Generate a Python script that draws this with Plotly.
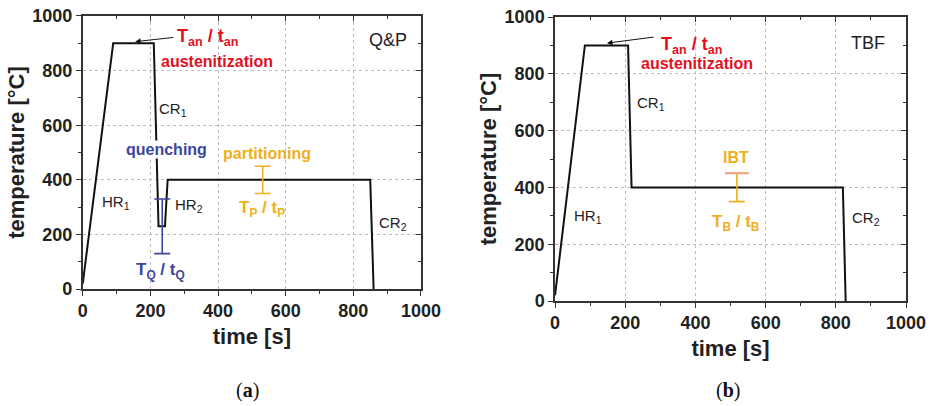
import plotly.graph_objects as go

# Heat-treatment schedules (time in s, temperature in °C)
qp_time = [0, 90, 210, 224, 243, 251, 850, 860]
qp_temp = [20, 900, 900, 230, 230, 400, 400, 0]

tbf_time = [0, 85, 208, 218, 820, 828]
tbf_temp = [20, 900, 900, 400, 400, 0]

# Process windows shown as range bars: centre and half-span
quench_t, quench_T, quench_span = [235], [230], [100]
part_t, part_T, part_span = [532], [400], [50]
ibt_t, ibt_T, ibt_span = [518], [400], [50]

tick_vals = [0, 200, 400, 600, 800, 1000]
tick_text = [f"<b>{v}</b>" for v in tick_vals]

RED = "#E2101E"
BLUE = "#3C469A"
GOLD = "#EDB020"
SALMON = "#F2A585"
DARK = "#222222"
FONT = "Liberation Sans"

fig = go.Figure()

fig.add_trace(go.Scatter(x=qp_time, y=qp_temp, mode="lines",
                         line=dict(color="#111111", width=2),
                         xaxis="x", yaxis="y", showlegend=False))
fig.add_trace(go.Scatter(x=tbf_time, y=tbf_temp, mode="lines",
                         line=dict(color="#111111", width=2),
                         xaxis="x2", yaxis="y2", showlegend=False))


def range_bar(t, T, span, color, xa, ya):
    return go.Scatter(x=t, y=T, mode="markers",
                      marker=dict(size=1, opacity=0),
                      error_y=dict(type="data", array=span, symmetric=True,
                                   color=color, thickness=1.6, width=8),
                      xaxis=xa, yaxis=ya, showlegend=False)


fig.add_trace(range_bar(quench_t, quench_T, quench_span, BLUE, "x", "y"))
fig.add_trace(range_bar(part_t, part_T, part_span, GOLD, "x", "y"))
fig.add_trace(range_bar(ibt_t, ibt_T, ibt_span, GOLD, "x2", "y2"))
# upper cap of the IBT window
fig.add_trace(go.Scatter(x=ibt_t, y=[ibt_T[0] + ibt_span[0]], mode="markers",
                         marker=dict(symbol="line-ew-open", size=17, color=SALMON,
                                     line=dict(color=SALMON, width=2.2)),
                         xaxis="x2", yaxis="y2", showlegend=False))

# placeholder traces so the mirrored frame axes are drawn
fig.add_trace(go.Scatter(x=[None], y=[None], xaxis="x3", yaxis="y3", showlegend=False))
fig.add_trace(go.Scatter(x=[None], y=[None], xaxis="x4", yaxis="y4", showlegend=False))

tickfont = dict(family=FONT, size=18, color=DARK)
titlefont = dict(family=FONT, size=22, color=DARK, weight="bold")


def main_axis(domain, anchor, title, standoff):
    return dict(domain=domain, anchor=anchor, range=[0, 1000],
                tickvals=tick_vals, ticktext=tick_text,
                ticks="outside", ticklen=5, tickwidth=1.3,
                tickcolor="#333", showline=True, linecolor="#333", linewidth=1.6,
                mirror=True, showgrid=True, gridcolor="#BDBDBD", gridwidth=1,
                griddash="dot", zeroline=False, tickfont=tickfont,
                minor=dict(dtick=100, ticks="outside", ticklen=3, tickwidth=1.2,
                           tickcolor="#333", showgrid=False),
                title=dict(text=title, font=titlefont, standoff=standoff),
                automargin=False, fixedrange=True)


def frame_axis(overlay, anchor, side):
    return dict(overlaying=overlay, anchor=anchor, side=side, range=[0, 1000],
                tickvals=tick_vals, ticks="inside", ticklen=5, tickwidth=1.3,
                tickcolor="#333", showticklabels=False, showgrid=False,
                showline=False, zeroline=False,
                minor=dict(dtick=100, ticks="inside", ticklen=3, tickwidth=1.2,
                           tickcolor="#333", showgrid=False),
                automargin=False, fixedrange=True)


ann = []


def label(x, y, text, xref, yref, size=15, color=DARK, bold=False, bg=None,
          serif=False, yanchor="middle"):
    f = dict(family="Liberation Serif" if serif else FONT, size=size, color=color)
    if bold:
        f["weight"] = "bold"
    a = dict(x=x, y=y, xref=xref, yref=yref, text=text, showarrow=False,
             font=f, xanchor="center", yanchor=yanchor)
    if bg:
        a["bgcolor"] = bg
        a["borderpad"] = 0
    ann.append(a)


def arrow(x, y, ax, ay, xref, yref):
    ann.append(dict(x=x, y=y, ax=ax, ay=ay, xref=xref, yref=yref,
                    axref=xref, ayref=yref, text="", showarrow=True,
                    arrowhead=2, arrowsize=1.1, arrowwidth=1,
                    arrowcolor="#111111"))


# Q&P panel
arrow(155, 906, 272, 922, "x", "y")
label(368, 922, "T<sub>an</sub> / t<sub>an</sub>", "x", "y", 18, RED, True)
label(397, 835, "austenitization", "x", "y", 16, RED, True)
label(903, 911, "Q&amp;P", "x", "y", 18)
label(266, 659, "CR<sub>1</sub>", "x", "y", 15)
label(247, 512, "quenching", "x", "y", 16, BLUE, True, bg="white")
label(545, 498, "partitioning", "x", "y", 16, GOLD, True)
label(98, 318, "HR<sub>1</sub>", "x", "y", 15)
label(314, 307, "HR<sub>2</sub>", "x", "y", 15)
label(531, 293, "T<sub>P</sub> / t<sub>P</sub>", "x", "y", 17, GOLD, True)
label(917, 241, "CR<sub>2</sub>", "x", "y", 15)
label(229, 66, "T<sub>Q</sub> / t<sub>Q</sub>", "x", "y", 17, BLUE, True)

# TBF panel
arrow(148, 908, 285, 930, "x2", "y2")
label(390, 901, "T<sub>an</sub> / t<sub>an</sub>", "x2", "y2", 18, RED, True)
label(405, 838, "austenitization", "x2", "y2", 16, RED, True)
label(892, 908, "TBF", "x2", "y2", 18)
label(273, 694, "CR<sub>1</sub>", "x2", "y2", 15)
label(516, 504, "IBT", "x2", "y2", 16, GOLD, True)
label(93, 299, "HR<sub>1</sub>", "x2", "y2", 15)
label(516, 275, "T<sub>B</sub> / t<sub>B</sub>", "x2", "y2", 17, GOLD, True)
label(885, 292, "CR<sub>2</sub>", "x2", "y2", 15)

# panel letters
label(0.265, 0.004, "(<b>a</b>)", "paper", "paper", 20, "#111111", serif=True,
      yanchor="bottom")
label(0.780, 0.004, "(<b>b</b>)", "paper", "paper", 20, "#111111", serif=True,
      yanchor="bottom")

fig.update_layout(
    width=933, height=406,
    margin=dict(l=0, r=0, t=0, b=0),
    paper_bgcolor="white", plot_bgcolor="white",
    xaxis=main_axis([0.0887, 0.4512], "y", "time [s]", 8),
    yaxis=main_axis([0.288, 0.9606], "x", "temperature [°C]", 2),
    xaxis2=main_axis([0.5949, 0.9711], "y2", "time [s]", 8),
    yaxis2=main_axis([0.2586, 0.9581], "x2", "temperature [°C]", 2),
    xaxis3=frame_axis("x", "y", "top"),
    yaxis3=frame_axis("y", "x", "right"),
    xaxis4=frame_axis("x2", "y2", "top"),
    yaxis4=frame_axis("y2", "x2", "right"),
    annotations=ann,
    showlegend=False,
)

fig.write_html("out.html")
